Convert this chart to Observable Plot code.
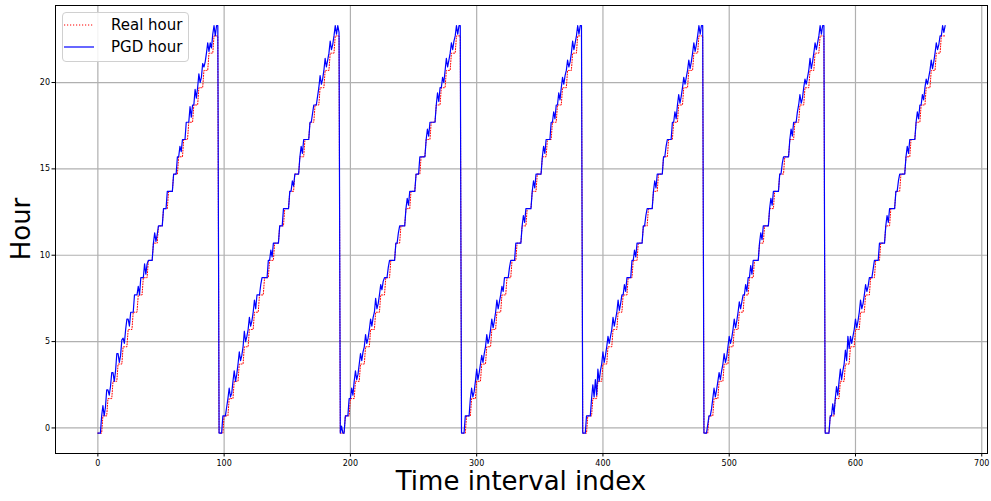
<!DOCTYPE html>
<html>
<head>
<meta charset="utf-8">
<script src="https://cdn.jsdelivr.net/npm/d3@7"></script>
<script src="https://cdn.jsdelivr.net/npm/@observablehq/plot@0.6"></script>
<style>
  html, body { margin: 0; padding: 0; background: #fff; }
  #wrap { position: relative; width: 991px; height: 501px; font-family: "DejaVu Sans", sans-serif; }
  #wrap svg { position: absolute; left: 0; top: 0; }
  .lbl { position: absolute; color: #000; white-space: nowrap; font-size: 26px; }
  #legend { position: absolute; left: 62px; top: 12px; width: 125px; height: 48px; border: 1px solid #d0d0d0; border-radius: 4px; background: rgba(255,255,255,0.85); }
  .entry { position: absolute; left: 0; height: 20px; font-size: 15px; line-height: 20px; }
  .entry svg { position: absolute; left: 5px; top: 0; }
  .entry span { position: absolute; left: 48px; top: 0; }
</style>
</head>
<body>
<div id="wrap"></div>
<script>
// ---- data ----
const xTicks = [0, 100, 200, 300, 400, 500, 600, 700];
const yTicks = [0, 5, 10, 15, 20];
const seriesNames = ["Real hour", "PGD hour"];

// Real hour within one day (96 fifteen-minute intervals), same each day
const realHourDay = [
  -0.3,-0.3,-0.3,-0.3, 0.7,0.7,0.7,0.7, 1.7,1.7,1.7,1.7, 2.7,2.7,2.7,2.7,
  3.7,3.7,3.7,3.7, 4.7,4.7,4.7,4.7, 5.7,5.7,5.7,5.7, 6.7,6.7,6.7,6.7,
  7.7,7.7,7.7,7.7, 8.7,8.7,8.7,8.7, 9.7,9.7,9.7,9.7, 10.7,10.7,10.7,10.7,
  11.7,11.7,11.7,11.7, 12.7,12.7,12.7,12.7, 13.7,13.7,13.7,13.7, 14.7,14.7,14.7,14.7,
  15.7,15.7,15.7,15.7, 16.7,16.7,16.7,16.7, 17.7,17.7,17.7,17.7, 18.7,18.7,18.7,18.7,
  19.7,19.7,19.7,19.7, 20.7,20.7,20.7,20.7, 21.7,21.7,21.7,21.7, 22.7,22.7,22.7,22.7
];
const nDays = 7;

const pgdDay1 = [
  -0.3,-0.3,-0.3,0.7, 1.3,0.7,1.2,2.2, 2.2,1.9,2.4,3.2, 3.2,2.7,3.3,4.3,
  4.3,3.8,4.2,5.1, 5.2,4.9,5.7,6.3, 6.3,5.9,6.7,6.7, 6.7,7.7,7.7,7.7,
  8.2,7.7,8.7,8.7, 8.7,9.5,8.9,9.5, 9.7,9.7,9.7,9.7, 10.7,11.3,10.8,11.2,
  11.7,11.7,11.7,11.7, 12.7,12.7,12.7,13.7, 13.7,13.7,13.7,13.7, 14.7,14.7,14.7,15.7,
  15.7,16.3,16.0,16.7, 16.7,16.7,17.7,17.7, 17.7,18.6,18.0,18.7, 18.7,19.6,19.1,19.7,
  20.5,20.0,20.3,21.1, 20.9,21.2,21.7,22.3, 21.8,22.3,22.0,22.8, 23.3,22.7,23.3,23.3
];
const pgdDay2 = [
  -0.3,-0.3,-0.3,0.7, 0.7,0.7,1.2,1.7, 2.3,1.8,2.0,2.7, 3.3,2.7,3.1,3.7,
  4.4,3.9,4.2,4.7, 5.6,5.0,5.3,5.7, 6.4,5.9,6.2,6.7, 7.4,6.9,7.7,7.7,
  7.7,8.3,8.7,8.7, 8.7,8.7,8.7,9.7, 9.7,10.3,9.9,10.7, 10.7,10.7,10.7,10.7,
  11.7,11.7,11.7,12.7, 12.7,12.7,12.7,12.7, 13.7,13.7,14.3,14.0, 14.7,14.7,14.7,14.7,
  15.7,16.3,15.9,16.7, 16.7,16.7,16.7,16.7, 17.7,17.7,18.2,18.7, 18.7,18.7,19.2,19.7,
  20.4,19.9,20.2,20.7, 21.4,20.9,21.3,21.7, 22.4,21.9,22.2,22.7, 23.3,22.8,23.3,22.9
];
const pgdDay3 = [
  -0.3,0.1,-0.3,-0.3, 0.7,0.7,0.7,1.7, 1.7,2.3,1.9,2.7, 3.3,2.8,3.1,3.7,
  4.3,3.9,4.4,4.7, 5.4,4.9,5.2,5.7, 6.3,5.9,6.4,6.7, 7.5,6.9,7.2,7.7,
  8.3,8.0,8.5,8.7, 8.7,8.7,9.3,9.7, 9.7,9.7,9.7,9.7, 10.7,10.7,11.3,11.7,
  11.7,11.7,11.7,11.7, 12.7,13.3,12.9,13.7, 13.7,13.7,13.7,13.7, 14.7,14.7,14.7,15.7,
  15.7,15.7,15.7,15.7, 16.7,17.3,16.9,17.7, 17.7,17.7,17.7,17.7, 18.7,19.4,18.9,19.7,
  19.7,20.3,20.0,20.7, 21.4,20.9,21.3,21.7, 22.3,21.9,22.4,22.7, 23.3,22.8,23.3,23.3
];
const pgdDay4 = [
  -0.3,-0.3,-0.3,0.7, 0.7,0.7,0.7,1.7, 2.3,1.8,2.1,2.7, 3.4,2.8,3.2,3.7,
  4.2,3.8,4.3,4.7, 5.4,4.9,5.2,5.7, 6.3,5.8,6.2,6.7, 7.4,6.9,7.3,7.7,
  8.2,7.9,8.7,8.7, 8.7,8.7,9.3,9.7, 9.7,9.7,9.7,10.7, 10.7,10.7,10.7,10.7,
  11.7,12.3,11.9,12.7, 12.7,12.7,12.7,12.7, 13.7,14.3,13.9,14.7, 14.7,14.7,14.7,14.7,
  15.7,16.3,15.9,16.7, 16.7,16.7,16.7,17.7, 17.7,18.3,17.9,18.7, 18.7,19.4,19.0,19.7,
  20.3,19.9,20.4,20.7, 21.3,20.9,21.2,21.7, 22.4,21.9,22.3,22.7, 23.3,22.8,23.3,23.3
];
const pgdDay5 = [
  -0.3,-0.3,-0.3,0.7, 0.7,0.7,0.7,1.7, 2.5,1.8,2.8,1.9, 3.4,2.7,3.3,3.7,
  4.4,3.8,4.2,4.7, 5.3,4.9,5.3,5.7, 6.4,5.9,6.3,6.7, 7.4,6.8,7.2,7.7,
  7.7,8.3,7.9,8.7, 8.7,8.7,8.7,9.7, 9.7,10.3,9.9,10.7, 10.7,10.7,10.7,10.7,
  11.7,11.7,12.3,12.7, 12.7,12.7,12.7,12.7, 13.7,14.3,13.9,14.7, 14.7,14.7,14.7,14.7,
  15.7,15.7,16.3,16.7, 16.7,16.7,16.7,17.7, 17.7,18.3,17.9,18.7, 19.3,18.8,19.2,19.7,
  20.3,19.9,20.3,20.7, 21.3,20.8,21.2,21.7, 22.3,21.8,22.2,22.7, 23.3,22.8,23.3,23.3
];
const pgdDay6 = [
  -0.3,-0.3,-0.3,0.2, 0.7,0.7,1.1,1.7, 2.3,1.8,2.2,2.7, 3.2,2.8,3.3,3.7,
  4.3,3.8,4.1,4.7, 5.3,4.9,5.2,5.7, 6.3,5.8,6.2,6.7, 7.3,6.9,7.3,7.7,
  7.7,8.3,7.9,8.7, 8.7,9.4,8.9,9.7, 9.7,9.7,9.7,9.7, 10.7,11.3,10.9,11.7,
  11.7,11.7,11.7,11.7, 12.7,13.3,12.9,13.7, 13.7,13.7,13.7,13.7, 14.7,14.7,15.3,15.7,
  15.7,15.7,15.7,15.7, 16.7,17.3,16.9,17.7, 17.7,17.7,18.3,18.7, 19.3,18.8,19.1,19.7,
  20.2,19.9,20.3,20.7, 21.4,20.8,21.2,21.7, 22.3,21.9,22.3,22.7, 23.3,22.8,23.3,23.3
];
const pgdDay7 = [
  -0.3,-0.3,-0.3,-0.3, 0.7,0.7,1.4,0.8, 1.7,2.4,1.9,2.7, 3.4,2.8,3.3,3.7,
  4.5,3.9,5.3,4.6, 5.3,4.9,5.3,5.7, 6.3,5.8,6.2,6.7, 7.4,6.9,7.2,7.7,
  8.3,7.9,8.2,8.7, 8.7,8.7,9.2,9.7, 9.7,9.7,9.7,10.7, 10.7,10.7,10.7,10.7,
  11.7,12.3,11.9,12.7, 12.7,12.7,12.7,12.7, 13.7,13.7,14.3,14.7, 14.7,14.7,14.7,14.7,
  15.7,16.3,15.9,16.7, 16.7,16.7,16.7,16.7, 17.7,18.3,17.9,18.7, 18.7,19.3,19.0,19.7,
  20.2,19.9,20.3,20.7, 21.3,20.8,21.2,21.7, 22.3,21.9,22.2,22.7, 22.7,23.3,22.9,23.3
];

// ---- build table ----
const pgdAll = [pgdDay1, pgdDay2, pgdDay3, pgdDay4, pgdDay5, pgdDay6, pgdDay7].flat();
const realAll = Array.from({length: nDays}, () => realHourDay).flat();
const rows = [];
realAll.forEach((v, i) => rows.push({i, v, s: seriesNames[0]}));
pgdAll.forEach((v, i) => rows.push({i, v, s: seriesNames[1]}));

const chart = Plot.plot({
  width: 991,
  height: 501,
  marginLeft: 55,
  marginRight: 4,
  marginTop: 5,
  marginBottom: 48,
  style: {fontFamily: "DejaVu Sans", background: "white", color: "black"},
  x: {domain: [-33.55, 704.55]},
  y: {domain: [-1.48, 24.46]},
  marks: [
    Plot.gridX(xTicks, {stroke: "#b0b0b0", strokeOpacity: 1, strokeWidth: 1.2}),
    Plot.gridY(yTicks, {stroke: "#b0b0b0", strokeOpacity: 1, strokeWidth: 1.2}),
    Plot.line(rows.filter(d => d.s === seriesNames[0]), {x: "i", y: "v", stroke: "red", strokeWidth: 1, strokeDasharray: "1,1.65"}),
    Plot.line(rows.filter(d => d.s === seriesNames[1]), {x: "i", y: "v", stroke: "blue", strokeWidth: 1.2}),
    Plot.frame({stroke: "black", strokeWidth: 1}),
    Plot.axisX(xTicks, {label: null, tickSize: 3.5, tickPadding: 3, fontSize: 8, stroke: "black"}),
    Plot.axisY(yTicks, {label: null, tickSize: 3.5, tickPadding: 2, fontSize: 8, stroke: "black"})
  ]
});

const wrap = document.getElementById("wrap");
wrap.appendChild(chart);

// axis titles
const xl = document.createElement("div");
xl.className = "lbl";
xl.textContent = "Time interval index";
xl.style.left = "521px";
xl.style.top = "466px";
xl.style.transform = "translateX(-50%)";
wrap.appendChild(xl);

const yl = document.createElement("div");
yl.className = "lbl";
yl.textContent = "Hour";
yl.style.left = "21px";
yl.style.top = "229px";
yl.style.transform = "translate(-50%, -50%) rotate(-90deg)";
wrap.appendChild(yl);

// legend
const lg = document.createElement("div");
lg.id = "legend";
const colors = ["red", "blue"];
const dashes = ["1.2,1.8", null];
seriesNames.forEach((name, k) => {
  const e = document.createElement("div");
  e.className = "entry";
  e.style.top = (2 + k * 22) + "px";
  e.style.width = "125px";
  const s = d3.create("svg").attr("width", 32).attr("height", 20);
  s.append("line").attr("x1", 1).attr("x2", 31).attr("y1", 10).attr("y2", 10)
    .attr("stroke", colors[k]).attr("stroke-width", 1.2)
    .attr("stroke-dasharray", dashes[k]);
  e.appendChild(s.node());
  const t = document.createElement("span");
  t.textContent = name;
  e.appendChild(t);
  lg.appendChild(e);
});
wrap.appendChild(lg);
</script>
</body>
</html>
